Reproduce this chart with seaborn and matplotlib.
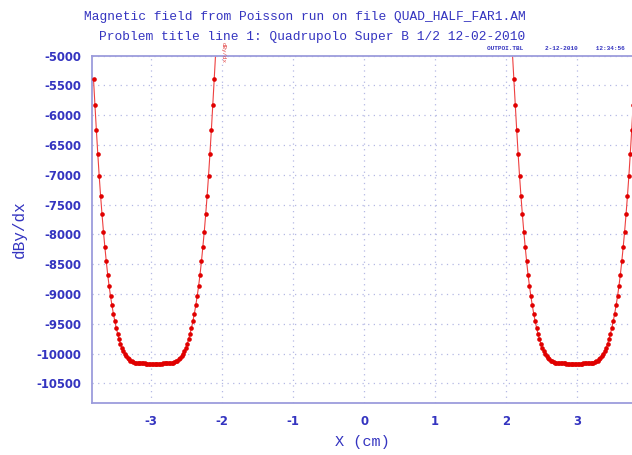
import matplotlib
matplotlib.use("Agg")
import matplotlib.pyplot as plt
import seaborn as sns
import pandas as pd

# ---------------- data ----------------
x_left = [-3.81, -3.79, -3.77, -3.75, -3.73, -3.71, -3.69, -3.67, -3.65, -3.63,
          -3.61, -3.59, -3.57, -3.55, -3.53, -3.51, -3.49, -3.47, -3.45, -3.43,
          -3.41, -3.39, -3.37, -3.35, -3.33, -3.31, -3.29, -3.27, -3.25, -3.23,
          -3.21, -3.19, -3.17, -3.15, -3.13, -3.11, -3.09, -3.07, -3.05, -3.03,
          -3.01, -2.99, -2.97, -2.95, -2.93, -2.91, -2.89, -2.87, -2.85, -2.83,
          -2.81, -2.79, -2.77, -2.75, -2.73, -2.71, -2.69, -2.67, -2.65, -2.63,
          -2.61, -2.59, -2.57, -2.55, -2.53, -2.51, -2.49, -2.47, -2.45, -2.43,
          -2.41, -2.39, -2.37, -2.35, -2.33, -2.31, -2.29, -2.27, -2.25, -2.23,
          -2.21, -2.19, -2.17, -2.15, -2.13, -2.11, -2.09]
dbydx_left = [-5393, -5823, -6243, -6643, -7016, -7355, -7665, -7953, -8212, -8455,
              -8676, -8868, -9041, -9193, -9332, -9457, -9568, -9668, -9758, -9837,
              -9903, -9958, -10004, -10043, -10075, -10100, -10119, -10134, -10145, -10152,
              -10157, -10161, -10163, -10165, -10166, -10167, -10167, -10168, -10168, -10168,
              -10168, -10168, -10168,
              -10168, -10168, -10168, -10168, -10168, -10168, -10167, -10167, -10166, -10165,
              -10163, -10161, -10157, -10152, -10145, -10134, -10119, -10100, -10075, -10043,
              -10004, -9958, -9903, -9837, -9758, -9668, -9568, -9457, -9332, -9193,
              -9041, -8868, -8676, -8455, -8212, -7953, -7665, -7355, -7016, -6643,
              -6243, -5823, -5393, -4960]

x_right = [2.09, 2.11, 2.13, 2.15, 2.17, 2.19, 2.21, 2.23, 2.25, 2.27,
           2.29, 2.31, 2.33, 2.35, 2.37, 2.39, 2.41, 2.43, 2.45, 2.47,
           2.49, 2.51, 2.53, 2.55, 2.57, 2.59, 2.61, 2.63, 2.65, 2.67,
           2.69, 2.71, 2.73, 2.75, 2.77, 2.79, 2.81, 2.83, 2.85, 2.87,
           2.89, 2.91, 2.93, 2.95, 2.97, 2.99, 3.01, 3.03, 3.05, 3.07,
           3.09, 3.11, 3.13, 3.15, 3.17, 3.19, 3.21, 3.23, 3.25, 3.27,
           3.29, 3.31, 3.33, 3.35, 3.37, 3.39, 3.41, 3.43, 3.45, 3.47,
           3.49, 3.51, 3.53, 3.55, 3.57, 3.59, 3.61, 3.63, 3.65, 3.67,
           3.69, 3.71, 3.73, 3.75, 3.77, 3.79]
dbydx_right = [-4960, -5393, -5823, -6243, -6643, -7016, -7355, -7665, -7953, -8212,
               -8455, -8676, -8868, -9041, -9193, -9332, -9457, -9568, -9668, -9758,
               -9837, -9903, -9958, -10004, -10043, -10075, -10100, -10119, -10134, -10145,
               -10152, -10157, -10161, -10163, -10165, -10166, -10167, -10167, -10168, -10168,
               -10168, -10168, -10168, -10168,
               -10168, -10168, -10168, -10168, -10168, -10168, -10167, -10167, -10166, -10165,
               -10163, -10161, -10157, -10152, -10145, -10134, -10119, -10100, -10075, -10043,
               -10004, -9958, -9903, -9837, -9758, -9668, -9568, -9457, -9332, -9193,
               -9041, -8868, -8676, -8455, -8212, -7953, -7665, -7355, -7016, -6643,
               -6243, -5823]

x_ticks = [-3, -2, -1, 0, 1, 2, 3]
y_ticks = [-5000, -5500, -6000, -6500, -7000, -7500, -8000, -8500,
           -9000, -9500, -10000, -10500]

title_1 = "Magnetic field from Poisson run on file QUAD_HALF_FAR1.AM"
title_2 = "Problem title line 1: Quadrupolo Super B 1/2 12-02-2010"
stamp = "OUTPOI.TBL      2-12-2010     12:34:56"
x_label = "X (cm)"
y_label = "dBy/dx"

# ---------------- style ----------------
sns.set_style("white")
plt.rcParams['font.family'] = ['Liberation Mono', 'DejaVu Sans']
plt.rcParams['axes.unicode_minus'] = False

BLUE = '#3434c0'
SPINE = '#9c9cdc'
GRID = '#b4b8e4'
RED = '#e00000'

df = pd.concat([
    pd.DataFrame({'x': x_left, 'y': dbydx_left, 'well': 'left'}),
    pd.DataFrame({'x': x_right, 'y': dbydx_right, 'well': 'right'}),
], ignore_index=True)

W, H = 632, 455
fig = plt.figure(figsize=(W / 100, H / 100), dpi=100)
fig.patch.set_facecolor('white')
left_px, right_px, top_px, bottom_px = 92.3, 632.0, 55.7, 403.3
ax = fig.add_axes([left_px / W, 1 - bottom_px / H,
                   (right_px - left_px) / W, (bottom_px - top_px) / H])

sns.lineplot(data=df, x='x', y='y', units='well', estimator=None, sort=False,
             color='#ee4040', lw=0.8, ax=ax, legend=False)
sns.scatterplot(data=df, x='x', y='y', color=RED, s=11, linewidth=0,
                ax=ax, legend=False, zorder=3)

ax.set_xlim(-3.827, 3.774)
ax.set_ylim(-10836, -5000)

ax.set_xticks(x_ticks)
ax.set_xticklabels([str(t) for t in x_ticks])
ax.set_yticks(y_ticks)
ax.set_yticklabels([str(t) for t in y_ticks])

for lab in ax.get_xticklabels() + ax.get_yticklabels():
    lab.set_fontfamily('DejaVu Sans')
    lab.set_fontweight('bold')
    lab.set_fontsize(8.4)
    lab.set_color(BLUE)

ax.tick_params(axis='both', direction='in', length=4, width=0.8,
               color=SPINE)
ax.tick_params(axis='x', pad=8.5)
ax.tick_params(axis='y', pad=8)

ax.grid(True, color=GRID, linestyle=(0, (1, 3.5)), linewidth=0.9)

for side in ['left', 'bottom', 'top']:
    ax.spines[side].set_visible(True)
    ax.spines[side].set_color(SPINE)
    ax.spines[side].set_linewidth(1.3)
ax.spines['right'].set_visible(False)

ax.set_xlabel(x_label, fontsize=11, color=BLUE, va='center', ha='center')
ax.xaxis.set_label_coords(0.5, -(442 - bottom_px) / (bottom_px - top_px))
ax.set_ylabel(y_label, fontsize=11.5, color=BLUE, va='center', ha='center')
ax.yaxis.set_label_coords((19 - left_px) / (right_px - left_px), 0.5)

fig.text(305 / W, 1 - 17 / H, title_1, ha='center', va='center',
         fontsize=9.3, color=BLUE)
fig.text(312 / W, 1 - 37 / H, title_2, ha='center', va='center',
         fontsize=9.3, color=BLUE)
fig.text(487 / W, 1 - 48.5 / H, stamp, ha='left', va='center',
         fontsize=4.4, color=BLUE, fontweight='bold')
fig.text(223 / W, 1 - 53 / H, y_label, ha='center', va='center',
         fontsize=4.2, color='#e04040', rotation=270)

fig.savefig('out.png', dpi=100, facecolor='white')
